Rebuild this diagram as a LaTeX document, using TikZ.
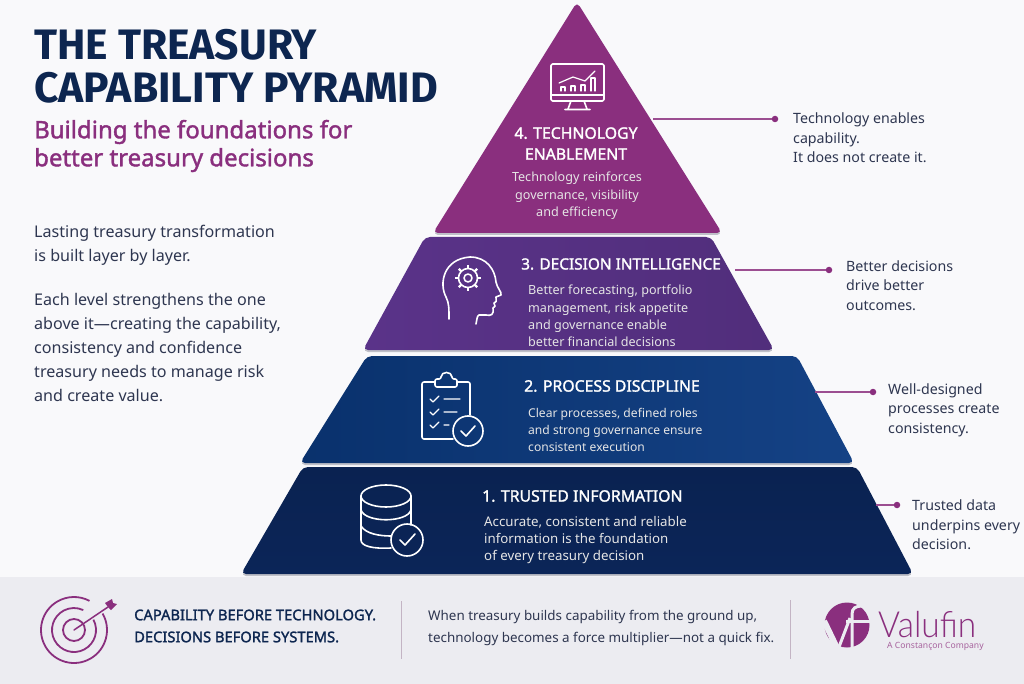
\documentclass[tikz,border=0pt]{standalone}
\usepackage{fontspec}
\setmainfont{Noto Sans}
\newfontfamily\headfont{Fira Sans}
\newfontfamily\midfont[FakeBold=1.6]{Noto Sans}
\newfontfamily\brandfont{Lato Light}
\usetikzlibrary{positioning}

\definecolor{paper}{HTML}{F9F9FB}
\definecolor{band}{HTML}{ECECF1}
\definecolor{plum}{HTML}{8A2F7E}
\definecolor{violet}{HTML}{5A3389}
\definecolor{midblue}{HTML}{0B3A80}
\definecolor{deepblue}{HTML}{0B2558}
\definecolor{inktitle}{HTML}{0D2650}
\definecolor{inkbody}{HTML}{2E3650}
\definecolor{rulecol}{HTML}{C3B4C4}
\definecolor{tiershadow}{HTML}{BFC0C8}

\tikzstyle{tier}=[rounded corners=5pt,preaction={fill=tiershadow,transform canvas={yshift=-2pt}}]
\tikzstyle{tiername}=[text=white,font=\fontsize{15.8}{21}\selectfont\midfont,inner sep=0pt]
\tikzstyle{tierbody}=[text=white!90!black,font=\fontsize{12.6}{17.4}\selectfont,inner sep=0pt,align=left]
\tikzstyle{sidenote}=[text=inkbody,font=\fontsize{14.2}{19.6}\selectfont,inner sep=0pt,align=left,anchor=west]
\tikzstyle{leaddot}=[shape=circle,fill=plum,inner sep=0pt,minimum size=6.5pt]
\tikzstyle{leadline}=[draw=plum!85,line width=1.1pt]
\tikzstyle{icon}=[draw=white,line width=1.6pt,line cap=round,line join=round]
\tikzstyle{iconthin}=[icon,line width=1.2pt]
\tikzstyle{targetring}=[draw=plum,line width=1.8pt]
\tikzstyle{bandrule}=[draw=rulecol,line width=0.9pt]

\begin{document}
\begin{tikzpicture}[x=1pt,y=-1pt]
\useasboundingbox (0,0) rectangle (1024,684);
\fill[paper] (0,0) rectangle (1024,684);
\fill[band] (0,577) rectangle (1024,684);
% heading
\node[anchor=west,inner sep=0pt,text=inktitle,font=\fontsize{42.6}{43}\selectfont\headfont\bfseries,align=left] (title) at (34,66) {THE TREASURY\\CAPABILITY PYRAMID};
\node[anchor=west,inner sep=0pt,text=plum,font=\fontsize{24}{28}\selectfont\midfont,align=left] (subtitle) at (34,146) {Building the foundations for\\better treasury decisions};
\node[anchor=west,inner sep=0pt,text=inkbody,font=\fontsize{16.1}{23.6}\selectfont,align=left] (intro) at (34,245.5) {Lasting treasury transformation\\is built layer by layer.};
\node[anchor=west,inner sep=0pt,text=inkbody,font=\fontsize{16.1}{24.2}\selectfont,align=left] (lead) at (34,347.5) {Each level strengthens the one\\above it---creating the capability,\\consistency and confidence\\treasury needs to manage risk\\and create value.};
% 1st tier
\shade[tier,top color=deepblue!92!black,bottom color=deepblue] (303,467) -- (857,467) -- (913,574) -- (241,574) -- cycle;
\coordinate (edge1) at (876,505);
\node[tiername,anchor=west] (name1) at (482,496) {1. TRUSTED INFORMATION};
\node[tierbody,anchor=west,font=\fontsize{13.3}{17.4}\selectfont] (body1) at (484,540) {Accurate, consistent and reliable\\information is the foundation\\of every treasury decision};
\node[leaddot] (dot1) at (897,505) {} edge[leadline] (edge1);
\node[sidenote] (note1) at (912,525) {Trusted data\\underpins every\\decision.};
% 2nd tier
\shade[tier,left color=midblue!85!black,right color=midblue!96!white] (367,356) -- (797,356) -- (854,463) -- (300,463) -- cycle;
\coordinate (edge2) at (815,392);
\node[tiername,anchor=west] (name2) at (524,386) {2. PROCESS DISCIPLINE};
\node[tierbody,anchor=west,font=\fontsize{12.1}{17.4}\selectfont] (body2) at (528,430) {Clear processes, defined roles\\and strong governance ensure\\consistent execution};
\node[leaddot] (dot2) at (873,392) {} edge[leadline] (edge2);
\node[sidenote] (note2) at (888,410) {Well-designed\\processes create\\consistency.};
% 3rd tier
\shade[tier,left color=violet,right color=violet!90!black] (425,237) -- (711,237) -- (774,350) -- (363,350) -- cycle;
\coordinate (edge3) at (735,270);
\node[tiername,anchor=west,font=\fontsize{15.4}{21}\selectfont\midfont] (name3) at (521,264) {3. DECISION INTELLIGENCE};
\node[tierbody,anchor=west] (body3) at (528,316) {Better forecasting, portfolio\\management, risk appetite\\and governance enable\\better financial decisions};
\node[leaddot] (dot3) at (829,270) {} edge[leadline] (edge3);
\node[sidenote] (note3) at (846,285.5) {Better decisions\\drive better\\outcomes.};
% 4th tier
\fill[tier,plum] (577,2) -- (722,233) -- (433,233) -- cycle;
\coordinate (edge4) at (653,119);
\node[tiername,align=center] (name4) at (576,143.5) {4. TECHNOLOGY\\ENABLEMENT};
\node[tierbody,align=center] (body4) at (577,196) {Technology reinforces\\governance, visibility\\and efficiency};
\node[leaddot] (dot4) at (775,119) {} edge[leadline] (edge4);
\node[sidenote] (note4) at (793,138) {Technology enables\\capability.\\It does not create it.};
% monitor icon
\draw[icon,rounded corners=1.5pt] (551,64) rectangle (604,101);
\draw[icon] (551,95) -- (604,95);
\draw[icon] (571,101) -- (568,109) (584,101) -- (587,109) (565,109.5) -- (590,109.5);
\draw[iconthin] (559,83) -- (573,77) -- (585,81) -- (595,71);
\draw[iconthin] (561,91) -- (561,87) -- (565,87) -- (565,91) (571,91) -- (571,86) -- (575,86) -- (575,91) (581,91) -- (581,85) -- (585,85) -- (585,91) (591,91) -- (591,78) -- (595,78) -- (595,91);
% head icon
\draw[icon] (449,319) .. controls (449,308) and (449,303) .. (446,297) .. controls (439,284) and (443,259) .. (470,257) .. controls (487,257) and (495,270) .. (496,282) .. controls (497,288) and (502,292) .. (501,295) -- (496,297) .. controls (496,302) and (497,302) .. (494,303) .. controls (496,305) and (495,308) .. (493,308) .. controls (494,315) and (491,316) .. (486,315) -- (479,315) .. controls (477,316) and (477,319) .. (476,324);
\draw[icon] (468,278) circle (9.5pt) (468,278) circle (4pt);
\foreach \a in {0,45,...,315}
  \draw[icon,line width=2.4pt,line cap=butt] (468,278) ++(\a:9.5) -- ++(\a:3.5);
% clipboard icon
\draw[icon,rounded corners=2pt] (453,439) -- (422,439) -- (422,382) -- (435,382);
\draw[icon,rounded corners=2pt] (457,382) -- (470,382) -- (470,415);
\draw[icon,rounded corners=2pt] (435,387) -- (435,379) -- (441,379) .. controls (441,371) and (452,371) .. (452,379) -- (457,379) -- (457,387) -- cycle;
\draw[iconthin] (430,399) -- (433,402) -- (439,396) (444,399) -- (460,399) (430,412) -- (433,415) -- (439,409) (444,412) -- (457,412) (430,425) -- (433,428) -- (439,422) (444,425) -- (449,425);
\draw[icon] (468,431) circle (15pt);
\draw[icon] (461,431) -- (466,436) -- (475,426);
% database icon
\draw[icon] (386,496) ellipse (25pt and 11pt);
\draw[icon] (361,496) -- (361,540) .. controls (361,546) and (372,549) .. (391,548);
\draw[icon] (411,496) -- (411,525);
\draw[icon] (361,510) .. controls (365,523) and (407,523) .. (411,510);
\draw[icon] (361,526) .. controls (366,534) and (380,536) .. (391,536);
\draw[icon] (407,540) circle (16pt);
\draw[icon] (400,540) -- (405,545) -- (415,534);
% footer
\draw[targetring] (74,630) circle (11pt);
\draw[targetring] (74,630) ++(-28:22) arc (-28:295:22);
\draw[targetring] (74,630) ++(-30:33) arc (-30:298:33);
\draw[targetring,line width=1.5pt,line cap=round] (74,630) -- (108,607);
\fill[plum] (105,603) -- (112,599) -- (113,603) -- (117,604) -- (111,610) -- (108,607) -- cycle;
\node[anchor=west,inner sep=0pt,text=inktitle,font=\fontsize{14.7}{22}\selectfont\midfont,align=left] (motto) at (134,626) {CAPABILITY BEFORE TECHNOLOGY.\\DECISIONS BEFORE SYSTEMS.};
\node[anchor=west,inner sep=0pt,text=inkbody,font=\fontsize{13.4}{22}\selectfont,align=left] (closing) at (428,628) {When treasury builds capability from the ground up,\\technology becomes a force multiplier---not a quick fix.};
\coordinate (ruleA1) at (401,601);
\coordinate (ruleA2) at (401,659);
\coordinate (ruleB1) at (790,600);
\coordinate (ruleB2) at (790,659);
\draw[bandrule] (ruleA1) -- (ruleA2);
\draw[bandrule] (ruleB1) -- (ruleB2);
% logo
\fill[plum] (847,625) circle (22.5pt);
\draw[band,line width=6pt] (824,621) -- (837,648);
\draw[band,line width=3pt] (839,647) -- (850,618);
\draw[band,line width=3pt] (852,648) -- (852,614) .. controls (852,608) and (856,606) .. (862,606);
\draw[band,line width=3pt] (846,621) -- (870,621);
\node[anchor=base west,inner sep=0pt,text=plum,font=\fontsize{36}{36}\selectfont\brandfont,transform shape,xscale=0.93] (brand) at (878,637) {Valufin};
\node[anchor=west,inner sep=0pt,text=plum!75!white,font=\fontsize{8.6}{9}\selectfont] (owner) at (887,646) {A Constançon Company};
\end{tikzpicture}
\end{document}
